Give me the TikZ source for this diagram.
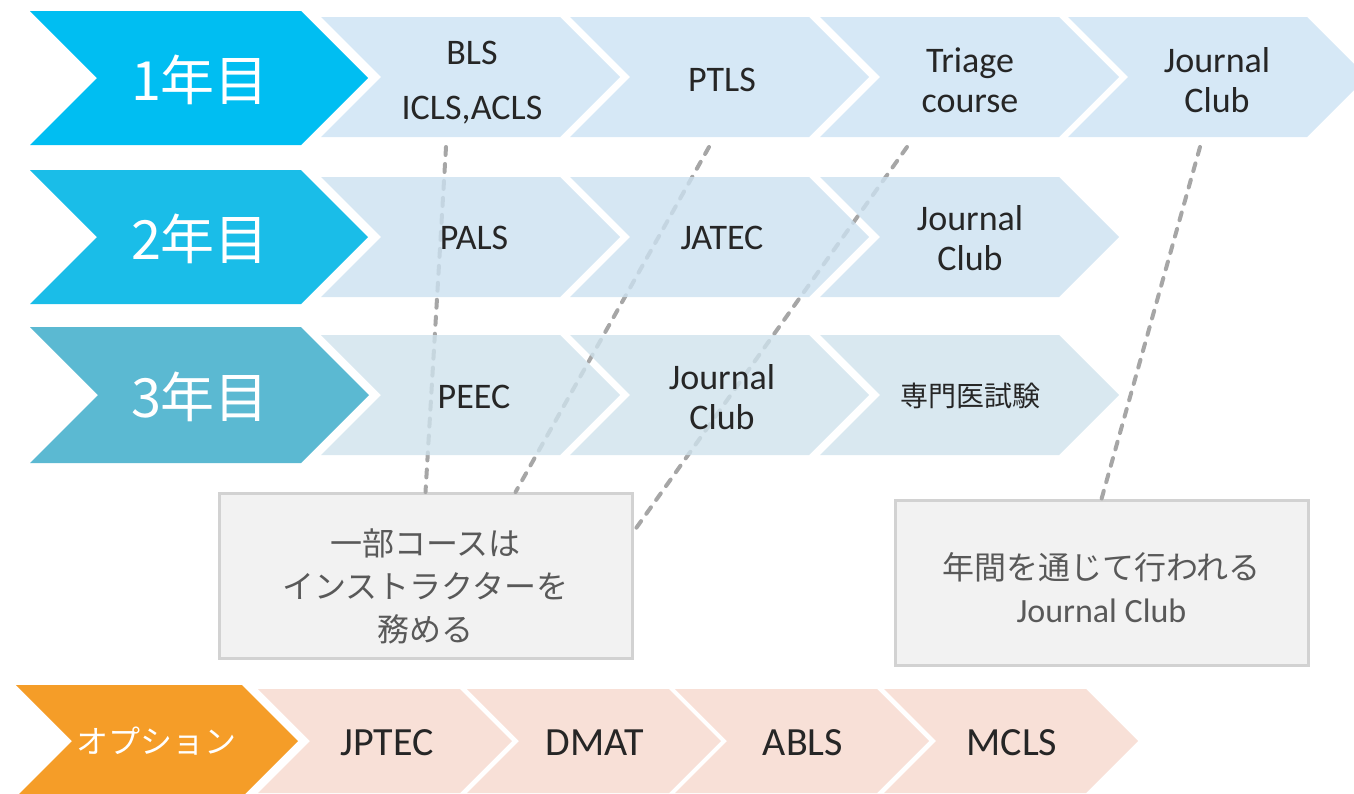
\documentclass[tikz,border=0pt]{standalone}
\usepackage{fontspec}
\setmainfont{Carlito}
\newfontfamily\jpfont{Noto Sans CJK JP}

\definecolor{yearone}{RGB}{0,190,242}
\definecolor{yeartwo}{RGB}{26,189,232}
\definecolor{yearthree}{RGB}{91,185,210}
\definecolor{courseone}{RGB}{214,232,246}
\definecolor{coursetwo}{RGB}{204,225,240}
\definecolor{coursethree}{RGB}{207,226,236}
\definecolor{optionhead}{RGB}{245,157,40}
\definecolor{optioncourse}{RGB}{248,224,215}
\definecolor{notefill}{RGB}{242,242,242}
\definecolor{noteline}{RGB}{210,210,210}
\definecolor{labeltext}{RGB}{38,38,38}
\definecolor{notetext}{RGB}{89,89,89}
\definecolor{linkgray}{RGB}{166,166,166}

\tikzset{
    course/.style={text=labeltext, align=center, font=\fontsize{18}{20}\selectfont},
    optcourse/.style={text=labeltext, align=center, font=\fontsize{20}{22}\selectfont},
    year/.style={text=white, font=\jpfont\fontsize{27}{30}\selectfont},
    notebox/.style={draw=noteline, line width=1.5pt, fill=notefill,
        minimum width=206.5pt, minimum height=82.5pt},
    note/.style={text=notetext, align=center, font=\jpfont\fontsize{16}{21.5}\selectfont},
    link/.style={draw=linkgray, line width=2pt, line cap=round, dash pattern=on 4pt off 4.5pt},
}

% style, left x, centre y, top width, half height
\newcommand{\chevron}[5]{%
    \fill[#1] (#2,#3-#5) -- ++(#4,0) -- ++(#5,#5) -- ++(-#5,#5) -- ++(-#4,0) -- ++(#5,-#5) -- cycle;
}

\begin{document}
\begin{tikzpicture}[x=0.5pt, y=-0.5pt]
    \useasboundingbox (0,0) rectangle (1354,793);

    % 1st year
    \chevron{yearone}{30}{78}{271}{67}
    \foreach \x in {321,570,820,1068} {\chevron{courseone}{\x}{77}{239}{60}}
    \node[year] (y1) at (200,80) {1年目};
    \node[course] (bls) at (472,83) {BLS\\[7.5pt]ICLS,ACLS};
    \node[course] (ptls) at (722,80) {PTLS};
    \node[course] (triage) at (970,80) {Triage\\course};
    \node[course] (jc1) at (1217,80) {Journal\\Club};

    % notes and their links
    \node[notebox] (instr) at (425.5,576) {};
    \node[note] (instrtext) at (425.5,586) {一部コースは\\インストラクターを\\務める};
    \node[notebox] (yearlong) at (1101.5,583) {};
    \node[note] (yearlongtext) at (1101.5,588)
        {年間を通じて行われる\\{\normalfont\fontsize{17}{20}\selectfont Journal Club}};
    \coordinate (blsfoot) at (446,147);
    \coordinate (ptlsfoot) at (709,147);
    \coordinate (triagefoot) at (907,147);
    \coordinate (jcfoot) at (1200,147);
    \draw[link] (blsfoot) -- (instr.north);
    \draw[link] (ptlsfoot) -- (instr.43);
    \draw[link] (triagefoot) -- (instr.12);
    \draw[link] (jcfoot) -- (yearlong.north);

    % 2nd year
    \chevron{yeartwo}{30}{237}{271}{67}
    \foreach \x in {321,570,820} {\chevron{coursetwo, fill opacity=0.8}{\x}{237}{239}{60}}
    \node[year] (y2) at (200,239) {2年目};
    \node[course] (pals) at (474,238) {PALS};
    \node[course] (jatec) at (722,238) {JATEC};
    \node[course] (jc2) at (970,238) {Journal\\Club};

    % 3rd year
    \chevron{yearthree}{30}{395}{271}{68}
    \foreach \x in {321,570,820} {\chevron{coursethree, fill opacity=0.8}{\x}{395}{239}{60}}
    \node[year] (y3) at (200,397) {3年目};
    \node[course] (peec) at (474,397) {PEEC};
    \node[course] (jc3) at (722,397) {Journal\\Club};
    \node[course, font=\jpfont\fontsize{14}{16}\selectfont] (exam) at (970,396) {専門医試験};

    % options
    \chevron{optionhead}{16}{741}{226}{56}
    \foreach \x in {258,467,675,884} {\chevron{optioncourse}{\x}{741}{202}{52}}
    \node[year, font=\jpfont\fontsize{16}{18}\selectfont] (opt) at (156,741) {オプション};
    \node[optcourse] (jptec) at (387,743) {JPTEC};
    \node[optcourse] (dmat) at (595,743) {DMAT};
    \node[optcourse] (abls) at (803,743) {ABLS};
    \node[optcourse] (mcls) at (1012,743) {MCLS};
\end{tikzpicture}
\end{document}
